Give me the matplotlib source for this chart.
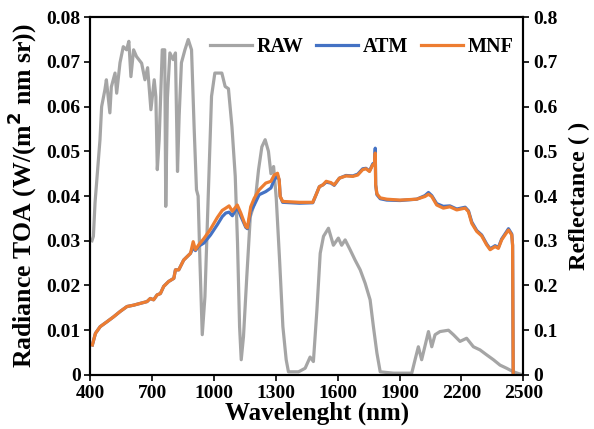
import matplotlib
matplotlib.use('Agg')
import matplotlib.pyplot as plt
from matplotlib.ticker import FixedLocator, FuncFormatter

# Raw radiance at top of atmosphere (left axis)
raw_wl = [408, 415, 423, 447, 455, 471, 478, 495, 502, 520, 528, 544, 560,
          576, 587, 597, 610, 624, 649, 665, 678, 694, 710, 718, 725, 734,
          749, 761, 766, 774, 786, 802, 813, 823, 831, 842, 859, 875, 891,
          904, 915, 923, 932, 943, 956, 972, 988, 1004, 1038, 1054, 1070,
          1087, 1103, 1114, 1124, 1132, 1143, 1159, 1176, 1200, 1216, 1232,
          1248, 1264, 1276, 1289, 1302, 1318, 1334, 1350, 1361, 1410, 1442,
          1466, 1482, 1499, 1515, 1531, 1555, 1579, 1603, 1619, 1636, 1660,
          1684, 1709, 1733, 1757, 1773, 1790, 1806, 1870, 1959, 1975, 1991,
          2007, 2040, 2056, 2072, 2096, 2137, 2161, 2193, 2225, 2258, 2290,
          2322, 2355, 2387, 2419, 2452, 2484, 2500]
raw_val = [0.030, 0.031, 0.0385, 0.0526, 0.060, 0.0638, 0.066, 0.0586,
           0.0644, 0.0675, 0.063, 0.0698, 0.0734, 0.0727, 0.0746, 0.0667,
           0.0727, 0.0712, 0.0697, 0.066, 0.0687, 0.0593, 0.066, 0.0622,
           0.0459, 0.0526, 0.0727, 0.0727, 0.0377, 0.062, 0.072, 0.0705,
           0.072, 0.0455, 0.058, 0.0698, 0.0727, 0.075, 0.0727, 0.0548,
           0.0414, 0.040, 0.025, 0.009, 0.0175, 0.040, 0.0623, 0.0675,
           0.0675, 0.0645, 0.064, 0.0555, 0.0444, 0.0295, 0.0108, 0.0034,
           0.0086, 0.022, 0.0354, 0.039, 0.0459, 0.051, 0.0526, 0.050, 0.045,
           0.0466, 0.0394, 0.0257, 0.0108, 0.0034, 0.0007, 0.0007, 0.0015,
           0.004, 0.003, 0.0145, 0.0272, 0.031, 0.0328, 0.029, 0.0306, 0.029,
           0.0302, 0.028, 0.0257, 0.0235, 0.0205, 0.0168, 0.0108, 0.0049,
           0.0007, 0.0004, 0.0004, 0.0034, 0.0063, 0.0034, 0.0097, 0.0063,
           0.009, 0.0097, 0.010, 0.009, 0.0075, 0.0082, 0.0063, 0.0056,
           0.0045, 0.0034, 0.0022, 0.0015, 0.0007, 0.0002, 0.0]

# Reflectance after atmospheric correction and after MNF (right axis)
ref_wl = [410, 425, 448, 481, 513, 545, 578, 610, 642, 675, 691, 707, 724,
          740, 756, 780, 805, 813, 829, 853, 886, 899, 910, 926, 951, 983,
          1016, 1040, 1057, 1073, 1089, 1113, 1130, 1154, 1162, 1178, 1195,
          1219, 1251, 1276, 1292, 1308, 1316, 1321, 1333, 1414, 1479, 1495,
          1511, 1528, 1544, 1567, 1583, 1608, 1640, 1673, 1697, 1721, 1737,
          1754, 1770, 1779, 1782, 1784, 1790, 1806, 1838, 1902, 1983, 2023,
          2040, 2056, 2080, 2112, 2144, 2177, 2218, 2234, 2250, 2274, 2298,
          2322, 2339, 2363, 2379, 2395, 2411, 2428, 2444, 2448, 2451]
mnf_val = [0.067, 0.093, 0.108, 0.119, 0.130, 0.142, 0.153, 0.156, 0.160,
           0.164, 0.171, 0.168, 0.179, 0.182, 0.198, 0.209, 0.216, 0.235,
           0.235, 0.257, 0.272, 0.298, 0.280, 0.291, 0.305, 0.326, 0.352,
           0.368, 0.373, 0.378, 0.366, 0.380, 0.362, 0.332, 0.329, 0.376,
           0.395, 0.414, 0.429, 0.433, 0.447, 0.451, 0.436, 0.399, 0.388,
           0.386, 0.386, 0.403, 0.421, 0.425, 0.433, 0.430, 0.425, 0.440,
           0.445, 0.444, 0.447, 0.459, 0.461, 0.455, 0.470, 0.472, 0.496,
           0.425, 0.405, 0.396, 0.393, 0.391, 0.393, 0.399, 0.404, 0.399,
           0.380, 0.373, 0.376, 0.369, 0.373, 0.365, 0.339, 0.321, 0.311,
           0.291, 0.280, 0.287, 0.283, 0.302, 0.313, 0.324, 0.313, 0.290,
           0.0]
atm_val = [0.067, 0.093, 0.108, 0.119, 0.130, 0.142, 0.153, 0.156, 0.160,
           0.164, 0.171, 0.168, 0.179, 0.182, 0.198, 0.209, 0.216, 0.235,
           0.235, 0.257, 0.272, 0.285, 0.278, 0.288, 0.295, 0.313, 0.336,
           0.354, 0.362, 0.364, 0.356, 0.375, 0.355, 0.330, 0.327, 0.365,
           0.380, 0.403, 0.410, 0.418, 0.436, 0.446, 0.436, 0.399, 0.386,
           0.384, 0.385, 0.403, 0.421, 0.425, 0.431, 0.429, 0.424, 0.440,
           0.446, 0.445, 0.449, 0.461, 0.462, 0.456, 0.472, 0.475, 0.507,
           0.425, 0.403, 0.394, 0.391, 0.390, 0.393, 0.401, 0.408, 0.401,
           0.383, 0.377, 0.378, 0.371, 0.375, 0.367, 0.342, 0.323, 0.313,
           0.293, 0.282, 0.289, 0.285, 0.304, 0.315, 0.327, 0.315, 0.290,
           0.0]

x_ticks = [400, 700, 1000, 1300, 1600, 1900, 2200, 2500]
left_ticks = [0, 0.01, 0.02, 0.03, 0.04, 0.05, 0.06, 0.07, 0.08]
right_ticks = [0, 0.1, 0.2, 0.3, 0.4, 0.5, 0.6, 0.7, 0.8]

plt.rcParams['font.family'] = ['Liberation Serif', 'DejaVu Serif']
plt.rcParams['font.weight'] = 'bold'

GRAY = '#A5A5A5'
BLUE = '#4472C4'
ORANGE = '#ED7D31'
LW = 2.3


def tick_fmt(v, _pos):
    return '0' if v == 0 else f'{v:g}'


fig = plt.figure(figsize=(5.94, 4.29), dpi=100)
ax = fig.add_axes([0.152, 0.126, 0.729, 0.834])
ax2 = ax.twinx()

raw_line, = ax.plot(raw_wl, raw_val, color=GRAY, lw=LW, label='RAW')
atm_line, = ax2.plot(ref_wl, atm_val, color=BLUE, lw=LW, label='ATM')
mnf_line, = ax2.plot(ref_wl, mnf_val, color=ORANGE, lw=LW, label='MNF')

ax.set_xlim(400, 2500)
ax.set_ylim(0, 0.08)
ax2.set_ylim(0, 0.8)
ax.xaxis.set_major_locator(FixedLocator(x_ticks))
ax.yaxis.set_major_locator(FixedLocator(left_ticks))
ax2.yaxis.set_major_locator(FixedLocator(right_ticks))
ax.yaxis.set_major_formatter(FuncFormatter(tick_fmt))
ax2.yaxis.set_major_formatter(FuncFormatter(tick_fmt))

for a in (ax, ax2):
    for s in a.spines.values():
        s.set_linewidth(1.5)
        s.set_color('black')
    a.tick_params(direction='out', length=4, width=1.2, labelsize=14,
                  pad=3)

ax.set_xlabel('Wavelenght (nm)', fontsize=18, fontweight='bold', labelpad=0)
ax.xaxis.set_label_coords(0.523, -0.075)
ax.set_ylabel('Radiance TOA (W/(m$^{\\mathbf{2}}$ nm sr))', fontsize=18.5,
              fontweight='bold', labelpad=5)
ax2.set_ylabel('Reflectance ( )', fontsize=17.5, fontweight='bold',
               labelpad=8)

ax2.legend(handles=[raw_line, atm_line, mnf_line], loc='upper right',
           bbox_to_anchor=(1.02, 0.995), ncol=3, frameon=False,
           handlelength=2.1, handletextpad=0.25, columnspacing=0.6,
           prop={'weight': 'bold', 'size': 14.5})

fig.savefig('out.png', dpi=100)
